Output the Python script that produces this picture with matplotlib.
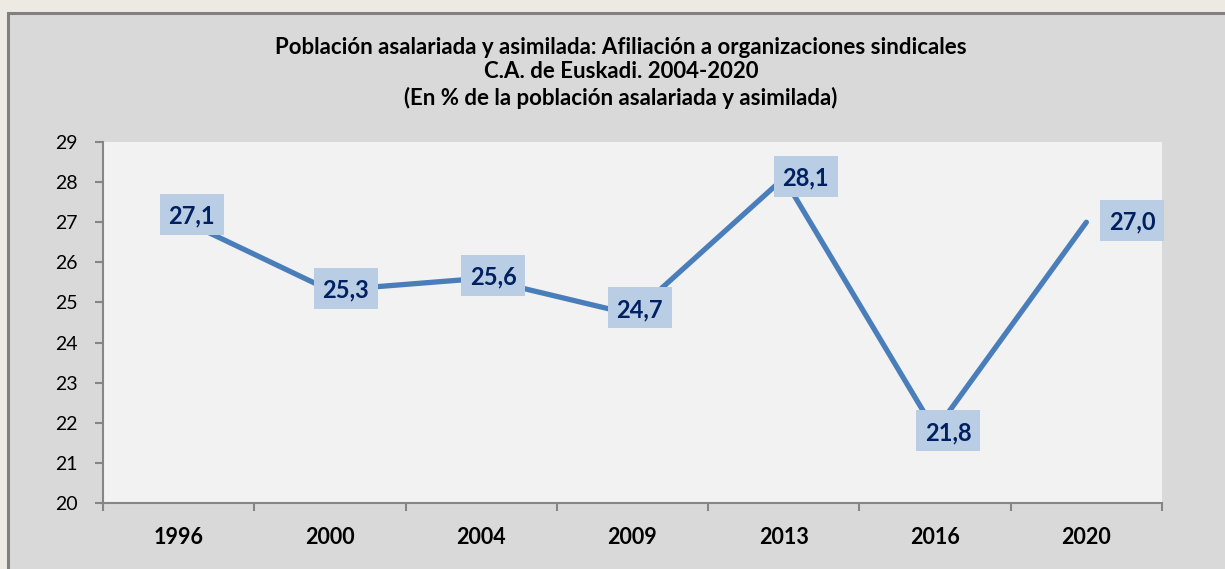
import matplotlib
matplotlib.use("Agg")
import matplotlib.pyplot as plt
from matplotlib.patches import Rectangle
from matplotlib.transforms import Affine2D, ScaledTranslation

# ---- data ----
years = ["1996", "2000", "2004", "2009", "2013", "2016", "2020"]
values = [27.1, 25.3, 25.6, 24.7, 28.1, 21.8, 27.0]
labels = ["27,1", "25,3", "25,6", "24,7", "28,1", "21,8", "27,0"]
yticks = [20, 21, 22, 23, 24, 25, 26, 27, 28, 29]
title_lines = ["Población asalariada y asimilada: Afiliación a organizaciones sindicales",
               "C.A. de Euskadi. 2004-2020",
               "(En % de la población asalariada y asimilada)"]

# label offsets in pixels (dx right, dy up)
label_offsets = [(13, 4), (16, 2), (12, 3), (7, 7), (22, 2), (13, 0), (46, 2)]
BOX_W, BOX_H = 64, 41

W, H = 1225, 569
DPI = 100
plt.rcParams['font.family'] = ['Lato', 'DejaVu Sans']

fig = plt.figure(figsize=(W / DPI, H / DPI), dpi=DPI)
fig.patch.set_facecolor("#EDE9E3")

# grey chart panel
panel = Rectangle((7.5 / W, -0.05), 1.2, 1 - 12.5 / H + 0.05, transform=fig.transFigure,
                  facecolor="#D9D9D9", edgecolor="#808080", linewidth=2.2, zorder=-5)
fig.patches.append(panel)

x0, x1 = 103, 1162
ytop, ybot = 142, 503
ax = fig.add_axes([x0 / W, 1 - ybot / H, (x1 - x0) / W, (ybot - ytop) / H])
ax.set_zorder(2)
ax.set_facecolor("#F2F2F2")

xs = list(range(len(years)))
ax.plot(xs, values, color="#4A7EBB", linewidth=3.8, solid_capstyle="round",
        solid_joinstyle="round", zorder=3)

ax.set_xlim(-0.5, len(years) - 0.5)
ax.set_ylim(20, 29)

for x, v, lab, (dx, dy) in zip(xs, values, labels, label_offsets):
    tr = Affine2D() + ScaledTranslation(x, v, ax.transData)
    ax.add_patch(Rectangle((dx - BOX_W / 2, dy - BOX_H / 2), BOX_W, BOX_H, transform=tr,
                           facecolor="#B9CDE5", edgecolor="none", zorder=4, clip_on=False))
    ax.annotate(lab, (x, v), xytext=(dx * 0.72, dy * 0.72), textcoords="offset points",
                ha="center", va="center_baseline", fontsize=17, fontweight="bold",
                color="#002060", zorder=5)

ax.set_yticks(yticks)
ax.set_yticklabels([str(t) for t in yticks], fontsize=14)

# category labels at centres, ticks at boundaries
ax.set_xticks([i - 0.5 for i in range(len(years) + 1)])
ax.set_xticklabels([])
ax.set_xticks(xs, minor=True)
ax.set_xticklabels(years, minor=True, fontsize=15.5, fontweight="bold")
ax.tick_params(axis="x", which="minor", length=0, pad=17)
ax.tick_params(axis="x", which="major", length=6, width=1.5, color="#868686", direction="out")
ax.tick_params(axis="y", length=6, width=1.5, color="#868686", direction="out", pad=12)

for s in ["top", "right"]:
    ax.spines[s].set_visible(False)
for s in ["left", "bottom"]:
    ax.spines[s].set_color("#868686")
    ax.spines[s].set_linewidth(1.5)

for i, (line, yy) in enumerate(zip(title_lines, [47, 72, 98])):
    fig.text(621 / W, 1 - yy / H, line, ha="center", va="center",
             fontsize=16, fontweight="bold", color="#000000")

fig.savefig("out.png", dpi=DPI, facecolor=fig.get_facecolor())
